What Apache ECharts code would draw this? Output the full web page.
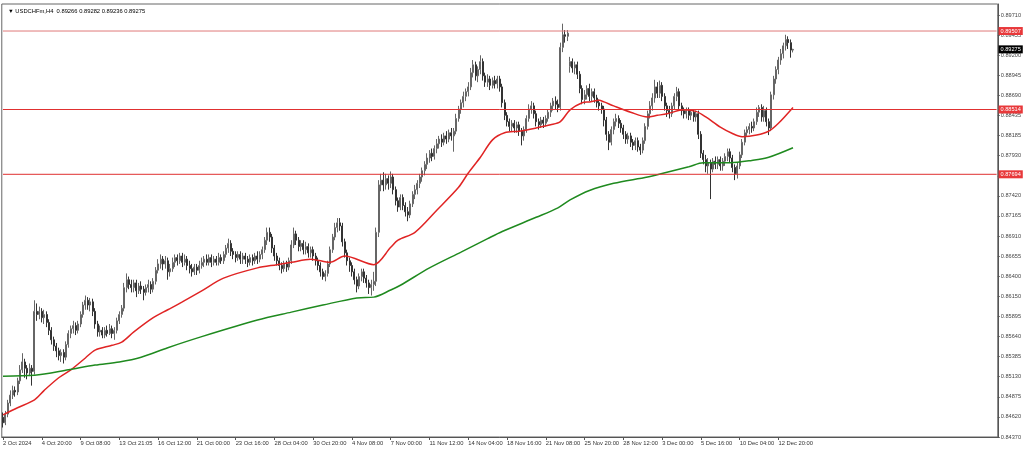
<!DOCTYPE html>
<html><head><meta charset="utf-8">
<script src="https://cdn.jsdelivr.net/npm/echarts@6/dist/echarts.min.js"></script>
<style>html,body{margin:0;padding:0;background:#fff}#c{width:1024px;height:452px}</style>
</head><body><div id="c"></div>
<script>
const symbolTitle = 'USDCHFm,H4';
const lastOHLC = [0.89266, 0.89282, 0.89236, 0.89275];
const dateLabels = ['2 Oct 2024','4 Oct 20:00','9 Oct 08:00','13 Oct 21:05','16 Oct 12:00','21 Oct 00:00','23 Oct 16:00','28 Oct 04:00','30 Oct 20:00','4 Nov 08:00','7 Nov 00:00','11 Nov 12:00','14 Nov 04:00','18 Nov 16:00','21 Nov 08:00','25 Nov 20:00','28 Nov 12:00','3 Dec 00:00','5 Dec 16:00','10 Dec 04:00','12 Dec 20:00'];
const labelStep = 16;
const slotCount = 411;
const yTickLabels = ['0.84370','0.84620','0.84875','0.85130','0.85385','0.85640','0.85895','0.86150','0.86400','0.86655','0.86910','0.87165','0.87420','0.87675','0.87930','0.88185','0.88435','0.88690','0.88945','0.89200','0.89455','0.89710'];
const yMin = 0.84370, yTopTick = 0.89710, yMax = 0.89849;
const levels = [0.89507, 0.88514, 0.87694];
const bidPrice = 0.89275;
// [open, close, low, high]
const candles = [
[0.8462,0.8455,0.8449,0.8468],[0.8455,0.8466,0.8452,0.8470],[0.8466,0.8480,0.8462,0.8484],[0.8480,0.8490,0.8476,0.8496],[0.8490,0.8496,0.8485,0.8502],
[0.8496,0.8494,0.8488,0.8501],[0.8494,0.8508,0.8490,0.8512],[0.8508,0.8522,0.8504,0.8528],[0.8522,0.8532,0.8518,0.8543],[0.8532,0.8524,0.8512,0.8536],
[0.8524,0.8518,0.8510,0.8528],[0.8518,0.8524,0.8514,0.8530],[0.8524,0.8520,0.8502,0.8528],[0.8520,0.8596,0.8516,0.8610],[0.8596,0.8592,0.8584,0.8606],
[0.8592,0.8596,0.8586,0.8602],[0.8596,0.8588,0.8582,0.8600],[0.8588,0.8592,0.8580,0.8598],[0.8592,0.8582,0.8576,0.8596],[0.8582,0.8572,0.8566,0.8586],
[0.8572,0.8560,0.8554,0.8576],[0.8560,0.8552,0.8546,0.8564],[0.8552,0.8546,0.8538,0.8556],[0.8546,0.8540,0.8534,0.8550],[0.8540,0.8544,0.8532,0.8548],
[0.8544,0.8538,0.8530,0.8548],[0.8538,0.8554,0.8534,0.8558],[0.8554,0.8568,0.8550,0.8572],[0.8568,0.8574,0.8562,0.8578],[0.8574,0.8578,0.8568,0.8584],
[0.8578,0.8572,0.8566,0.8582],[0.8572,0.8580,0.8568,0.8584],[0.8580,0.8592,0.8576,0.8596],[0.8592,0.8604,0.8588,0.8608],[0.8604,0.8610,0.8598,0.8616],
[0.8610,0.8604,0.8598,0.8614],[0.8604,0.8608,0.8596,0.8613],[0.8608,0.8596,0.8590,0.8612],[0.8596,0.8580,0.8574,0.8600],[0.8580,0.8570,0.8564,0.8584],
[0.8570,0.8572,0.8564,0.8578],[0.8572,0.8566,0.8562,0.8576],[0.8566,0.8572,0.8562,0.8576],[0.8572,0.8568,0.8564,0.8578],[0.8568,0.8574,0.8566,0.8580],
[0.8574,0.8568,0.8562,0.8578],[0.8568,0.8572,0.8560,0.8576],[0.8572,0.8584,0.8568,0.8588],[0.8584,0.8592,0.8580,0.8596],[0.8592,0.8600,0.8588,0.8604],
[0.8600,0.8626,0.8596,0.8632],[0.8626,0.8636,0.8620,0.8644],[0.8636,0.8630,0.8624,0.8640],[0.8630,0.8626,0.8620,0.8636],[0.8626,0.8632,0.8620,0.8636],
[0.8632,0.8622,0.8614,0.8636],[0.8622,0.8628,0.8618,0.8632],[0.8628,0.8624,0.8618,0.8634],[0.8624,0.8620,0.8610,0.8628],[0.8620,0.8626,0.8616,0.8630],
[0.8626,0.8630,0.8620,0.8636],[0.8630,0.8624,0.8618,0.8634],[0.8624,0.8634,0.8620,0.8638],[0.8634,0.8648,0.8630,0.8652],[0.8648,0.8656,0.8644,0.8662],
[0.8656,0.8662,0.8650,0.8668],[0.8662,0.8656,0.8648,0.8666],[0.8656,0.8660,0.8650,0.8666],[0.8660,0.8646,0.8636,0.8664],[0.8646,0.8650,0.8640,0.8656],
[0.8650,0.8658,0.8646,0.8664],[0.8658,0.8664,0.8652,0.8668],[0.8664,0.8660,0.8654,0.8668],[0.8660,0.8666,0.8656,0.8670],[0.8666,0.8658,0.8652,0.8670],
[0.8658,0.8662,0.8654,0.8668],[0.8662,0.8654,0.8648,0.8666],[0.8654,0.8650,0.8644,0.8660],[0.8650,0.8646,0.8640,0.8656],[0.8646,0.8652,0.8642,0.8656],
[0.8652,0.8648,0.8642,0.8656],[0.8648,0.8654,0.8644,0.8660],[0.8654,0.8658,0.8650,0.8664],[0.8658,0.8662,0.8652,0.8666],[0.8662,0.8658,0.8654,0.8668],
[0.8658,0.8664,0.8654,0.8668],[0.8664,0.8658,0.8652,0.8668],[0.8658,0.8662,0.8654,0.8666],[0.8662,0.8658,0.8654,0.8666],[0.8658,0.8664,0.8654,0.8670],
[0.8664,0.8660,0.8656,0.8668],[0.8660,0.8668,0.8656,0.8672],[0.8668,0.8676,0.8664,0.8680],[0.8676,0.8682,0.8670,0.8688],[0.8682,0.8672,0.8666,0.8686],
[0.8672,0.8668,0.8662,0.8676],[0.8668,0.8664,0.8658,0.8672],[0.8664,0.8668,0.8660,0.8672],[0.8668,0.8662,0.8656,0.8672],[0.8662,0.8666,0.8656,0.8670],
[0.8666,0.8662,0.8656,0.8670],[0.8662,0.8658,0.8652,0.8666],[0.8658,0.8664,0.8654,0.8668],[0.8664,0.8660,0.8654,0.8668],[0.8660,0.8666,0.8656,0.8670],
[0.8666,0.8662,0.8656,0.8672],[0.8662,0.8668,0.8658,0.8672],[0.8668,0.8674,0.8662,0.8678],[0.8674,0.8686,0.8670,0.8690],[0.8686,0.8696,0.8680,0.8702],
[0.8696,0.8690,0.8684,0.8702],[0.8690,0.8676,0.8670,0.8694],[0.8676,0.8666,0.8660,0.8680],[0.8666,0.8660,0.8654,0.8670],[0.8660,0.8654,0.8648,0.8664],
[0.8654,0.8650,0.8644,0.8658],[0.8650,0.8656,0.8646,0.8660],[0.8656,0.8652,0.8646,0.8660],[0.8652,0.8660,0.8648,0.8664],[0.8660,0.8680,0.8656,0.8686],
[0.8680,0.8694,0.8676,0.8702],[0.8694,0.8686,0.8680,0.8698],[0.8686,0.8678,0.8672,0.8690],[0.8678,0.8682,0.8672,0.8686],[0.8682,0.8674,0.8668,0.8686],
[0.8674,0.8678,0.8668,0.8684],[0.8678,0.8670,0.8664,0.8682],[0.8670,0.8674,0.8664,0.8678],[0.8674,0.8666,0.8660,0.8678],[0.8666,0.8660,0.8654,0.8670],
[0.8660,0.8654,0.8648,0.8664],[0.8654,0.8646,0.8640,0.8658],[0.8646,0.8640,0.8636,0.8650],[0.8640,0.8644,0.8634,0.8648],[0.8644,0.8656,0.8640,0.8660],
[0.8656,0.8674,0.8652,0.8678],[0.8674,0.8690,0.8670,0.8694],[0.8690,0.8702,0.8686,0.8708],[0.8702,0.8708,0.8696,0.8714],[0.8708,0.8704,0.8698,0.8714],
[0.8704,0.8684,0.8678,0.8708],[0.8684,0.8670,0.8664,0.8688],[0.8670,0.8660,0.8654,0.8674],[0.8660,0.8654,0.8646,0.8664],[0.8654,0.8646,0.8640,0.8658],
[0.8646,0.8636,0.8630,0.8650],[0.8636,0.8628,0.8620,0.8640],[0.8628,0.8640,0.8624,0.8644],[0.8640,0.8646,0.8634,0.8650],[0.8646,0.8638,0.8632,0.8650],
[0.8638,0.8632,0.8626,0.8642],[0.8632,0.8626,0.8618,0.8636],[0.8626,0.8630,0.8616,0.8636],[0.8630,0.8634,0.8622,0.8646],[0.8634,0.8696,0.8628,0.8702],
[0.8696,0.8756,0.8690,0.8762],[0.8756,0.8762,0.8748,0.8770],[0.8762,0.8756,0.8748,0.8772],[0.8756,0.8764,0.8750,0.8770],[0.8764,0.8758,0.8750,0.8768],
[0.8758,0.8766,0.8752,0.8773],[0.8766,0.8750,0.8744,0.8770],[0.8750,0.8736,0.8730,0.8754],[0.8736,0.8728,0.8722,0.8740],[0.8728,0.8740,0.8724,0.8744],
[0.8740,0.8730,0.8724,0.8744],[0.8730,0.8722,0.8716,0.8734],[0.8722,0.8718,0.8710,0.8728],[0.8718,0.8732,0.8714,0.8736],[0.8732,0.8744,0.8728,0.8748],
[0.8744,0.8750,0.8738,0.8756],[0.8750,0.8758,0.8744,0.8762],[0.8758,0.8766,0.8752,0.8770],[0.8766,0.8774,0.8760,0.8778],[0.8774,0.8782,0.8768,0.8786],
[0.8782,0.8790,0.8776,0.8796],[0.8790,0.8796,0.8784,0.8800],[0.8796,0.8792,0.8786,0.8802],[0.8792,0.8802,0.8788,0.8806],[0.8802,0.8808,0.8796,0.8814],
[0.8808,0.8814,0.8802,0.8818],[0.8814,0.8810,0.8804,0.8820],[0.8810,0.8818,0.8806,0.8822],[0.8818,0.8814,0.8808,0.8824],[0.8814,0.8822,0.8810,0.8826],
[0.8822,0.8818,0.8812,0.8828],[0.8818,0.8824,0.8798,0.8828],[0.8824,0.8840,0.8820,0.8846],[0.8840,0.8852,0.8836,0.8856],[0.8852,0.8860,0.8846,0.8864],
[0.8860,0.8868,0.8854,0.8874],[0.8868,0.8874,0.8862,0.8878],[0.8874,0.8880,0.8868,0.8886],[0.8880,0.8898,0.8876,0.8904],[0.8898,0.8908,0.8892,0.8914],
[0.8908,0.8894,0.8888,0.8912],[0.8894,0.8902,0.8886,0.8906],[0.8902,0.8912,0.8896,0.8920],[0.8912,0.8894,0.8888,0.8916],[0.8894,0.8886,0.8880,0.8898],
[0.8886,0.8890,0.8880,0.8896],[0.8890,0.8882,0.8876,0.8894],[0.8882,0.8888,0.8878,0.8892],[0.8888,0.8884,0.8878,0.8894],[0.8884,0.8890,0.8878,0.8894],
[0.8890,0.8880,0.8874,0.8894],[0.8880,0.8860,0.8854,0.8884],[0.8860,0.8844,0.8838,0.8864],[0.8844,0.8836,0.8830,0.8848],[0.8836,0.8830,0.8824,0.8840],
[0.8830,0.8834,0.8824,0.8838],[0.8834,0.8828,0.8822,0.8838],[0.8828,0.8832,0.8822,0.8836],[0.8832,0.8824,0.8818,0.8836],[0.8824,0.8818,0.8806,0.8828],
[0.8818,0.8826,0.8812,0.8830],[0.8826,0.8840,0.8822,0.8844],[0.8840,0.8852,0.8836,0.8858],[0.8852,0.8856,0.8846,0.8862],[0.8856,0.8846,0.8840,0.8860],
[0.8846,0.8836,0.8830,0.8850],[0.8836,0.8832,0.8826,0.8840],[0.8832,0.8838,0.8828,0.8842],[0.8838,0.8834,0.8828,0.8842],[0.8834,0.8840,0.8830,0.8844],
[0.8840,0.8848,0.8836,0.8852],[0.8848,0.8856,0.8842,0.8860],[0.8856,0.8862,0.8850,0.8866],[0.8862,0.8858,0.8852,0.8868],[0.8858,0.8854,0.8848,0.8864],
[0.8854,0.8930,0.8850,0.8936],[0.8930,0.8946,0.8924,0.8960],[0.8946,0.8944,0.8936,0.8952],[0.8944,0.8948,0.8938,0.8952],[0.8906,0.8912,0.8898,0.8918],
[0.8912,0.8904,0.8898,0.8916],[0.8904,0.8908,0.8896,0.8912],[0.8908,0.8896,0.8890,0.8912],[0.8896,0.8878,0.8872,0.8900],[0.8878,0.8864,0.8858,0.8882],
[0.8864,0.8870,0.8858,0.8876],[0.8870,0.8878,0.8864,0.8882],[0.8878,0.8868,0.8862,0.8884],[0.8868,0.8874,0.8862,0.8878],[0.8874,0.8866,0.8860,0.8878],
[0.8866,0.8860,0.8854,0.8870],[0.8860,0.8856,0.8850,0.8864],[0.8856,0.8852,0.8846,0.8860],[0.8852,0.8838,0.8830,0.8856],[0.8838,0.8820,0.8812,0.8842],
[0.8820,0.8810,0.8800,0.8824],[0.8810,0.8826,0.8806,0.8830],[0.8826,0.8836,0.8820,0.8840],[0.8836,0.8840,0.8830,0.8846],[0.8840,0.8834,0.8828,0.8844],
[0.8834,0.8828,0.8822,0.8838],[0.8828,0.8820,0.8814,0.8832],[0.8820,0.8814,0.8808,0.8824],[0.8814,0.8818,0.8808,0.8822],[0.8818,0.8810,0.8804,0.8822],
[0.8810,0.8806,0.8800,0.8814],[0.8806,0.8812,0.8800,0.8816],[0.8812,0.8804,0.8798,0.8816],[0.8804,0.8800,0.8794,0.8808],[0.8800,0.8812,0.8796,0.8816],
[0.8812,0.8830,0.8808,0.8834],[0.8830,0.8846,0.8826,0.8850],[0.8846,0.8856,0.8840,0.8862],[0.8856,0.8866,0.8850,0.8872],[0.8866,0.8880,0.8860,0.8889],
[0.8880,0.8872,0.8866,0.8886],[0.8872,0.8882,0.8866,0.8888],[0.8882,0.8868,0.8862,0.8886],[0.8868,0.8856,0.8850,0.8872],[0.8856,0.8850,0.8842,0.8860],
[0.8850,0.8846,0.8840,0.8856],[0.8846,0.8856,0.8842,0.8860],[0.8856,0.8868,0.8852,0.8872],[0.8868,0.8874,0.8862,0.8880],[0.8874,0.8856,0.8850,0.8878],
[0.8856,0.8850,0.8844,0.8860],[0.8850,0.8846,0.8840,0.8854],[0.8846,0.8850,0.8840,0.8854],[0.8850,0.8844,0.8838,0.8854],[0.8844,0.8848,0.8838,0.8852],
[0.8848,0.8842,0.8836,0.8852],[0.8842,0.8846,0.8836,0.8850],[0.8846,0.8820,0.8814,0.8850],[0.8820,0.8796,0.8790,0.8824],[0.8796,0.8788,0.8782,0.8800],
[0.8788,0.8780,0.8772,0.8794],[0.8780,0.8784,0.8770,0.8790],[0.8784,0.8776,0.8738,0.8788],[0.8776,0.8786,0.8772,0.8790],[0.8786,0.8782,0.8776,0.8792],
[0.8782,0.8788,0.8776,0.8792],[0.8788,0.8780,0.8774,0.8792],[0.8780,0.8786,0.8774,0.8790],[0.8786,0.8792,0.8780,0.8796],[0.8792,0.8798,0.8786,0.8802],
[0.8798,0.8790,0.8784,0.8802],[0.8790,0.8778,0.8772,0.8794],[0.8778,0.8770,0.8762,0.8782],[0.8770,0.8780,0.8764,0.8784],[0.8780,0.8794,0.8776,0.8798],
[0.8794,0.8810,0.8790,0.8814],[0.8810,0.8822,0.8806,0.8826],[0.8822,0.8826,0.8818,0.8830],[0.8826,0.8830,0.8820,0.8834],[0.8830,0.8828,0.8822,0.8836],
[0.8828,0.8836,0.8824,0.8840],[0.8836,0.8848,0.8832,0.8854],[0.8848,0.8854,0.8842,0.8857],[0.8854,0.8842,0.8836,0.8858],[0.8842,0.8850,0.8836,0.8856],
[0.8850,0.8836,0.8830,0.8854],[0.8836,0.8828,0.8819,0.8840],[0.8828,0.8870,0.8824,0.8874],[0.8870,0.8890,0.8864,0.8894],[0.8890,0.8902,0.8884,0.8906],
[0.8902,0.8914,0.8896,0.8918],[0.8914,0.8922,0.8908,0.8928],[0.8922,0.8932,0.8916,0.8936],[0.8932,0.8940,0.8926,0.8946],[0.8940,0.8936,0.8928,0.8944],
[0.8936,0.89266,0.8917,0.8940],[0.89266,0.89275,0.89236,0.89282]
];
// moving averages read at sample bars: [barIndex, price]
const maRed = [[0,0.8465],[6,0.8474],[13,0.8484],[17,0.8496],[23,0.8512],[28,0.8522],[34,0.8537],[38,0.8547],[45,0.8553],[49,0.8557],[54,0.8570],[62,0.8588],[68,0.8598],[74,0.8608],[82,0.8622],[91,0.8638],[105,0.8651],[113,0.8655],[119,0.8658],[127,0.8662],[135,0.8658],[141,0.8666],[153,0.8655],[160,0.8677],[163,0.8686],[170,0.8696],[179,0.8724],[188,0.8753],[192,0.8771],[197,0.8791],[202,0.8813],[207,0.8822],[213,0.8824],[220,0.8828],[226,0.8832],[230,0.8836],[234,0.8851],[239,0.8860],[242,0.8861],[246,0.8863],[248,0.8861],[252,0.8856],[259,0.8848],[266,0.8842],[270,0.8844],[274,0.8846],[281,0.8851],[286,0.8849],[290,0.8842],[296,0.8829],[301,0.8821],[305,0.8817],[311,0.8819],[316,0.8824],[320,0.8834],[326,0.8854]];
const maGreen = [[0,0.8514],[13,0.8515],[27,0.8522],[38,0.8528],[48,0.8532],[57,0.8538],[68,0.8550],[82,0.8564],[105,0.8585],[119,0.8595],[132,0.8604],[146,0.8613],[153,0.8614],[160,0.8623],[164,0.8629],[176,0.8651],[189,0.8671],[200,0.8688],[206,0.8697],[220,0.8715],[229,0.8727],[234,0.8737],[242,0.8749],[252,0.8758],[266,0.8766],[274,0.8772],[283,0.8779],[289,0.8784],[300,0.8784],[309,0.8787],[316,0.8791],[326,0.8803]];

const yInterval = (yTopTick - yMin) / (yTickLabels.length - 1);
const slots = Array.from({length: slotCount}, (_, i) => String(i));
const FONT = 'Liberation Sans';
const isLabelSlot = (idx) => idx % labelStep === 0 && idx / labelStep < dateLabels.length;

// horizontal price levels drawn as flat line series across the whole category range
const levelSeries = (price, lineColor, tagColor) => ({
  type: 'line', data: [[0, price], [slotCount - 1, price]], symbol: 'none', silent: true, z: 4,
  itemStyle: {color: lineColor}, lineStyle: {color: lineColor, width: 1, type: 'solid'},
  endLabel: {show: true, distance: 2, formatter: () => price.toFixed(5), backgroundColor: tagColor,
    color: '#fff', fontSize: 5.6, fontFamily: FONT, padding: [1, 2, 1, 2]}
});

const chart = echarts.init(document.getElementById('c'), null, {renderer: 'canvas'});
chart.setOption({
  animation: false,
  backgroundColor: '#ffffff',
  title: {text: '\u25BC ' + symbolTitle + '  ' + lastOHLC.map(v => v.toFixed(5)).join(' '), left: 3, top: 3,
    textStyle: {fontSize: 5.8, fontWeight: 'normal', color: '#000', fontFamily: FONT}},
  grid: {left: 1, right: 24, top: 4, bottom: 15, show: true, borderColor: '#666', borderWidth: 1, backgroundColor: 'transparent'},
  xAxis: {type: 'category', data: slots, boundaryGap: true,
    axisLine: {lineStyle: {color: '#555', width: 1}},
    axisTick: {show: true, alignWithLabel: true, length: 3, interval: (i) => isLabelSlot(i), lineStyle: {color: '#555'}},
    axisLabel: {interval: (i) => isLabelSlot(i), formatter: (v, i) => dateLabels[i / labelStep] || '',
      align: 'left', margin: 3, fontSize: 5.8, color: '#333', fontFamily: FONT, showMinLabel: true, hideOverlap: false},
    splitLine: {show: false}},
  yAxis: {type: 'value', position: 'right', min: yMin, max: yMax, interval: yInterval, scale: true,
    axisLine: {show: true, lineStyle: {color: '#555', width: 1}},
    axisTick: {show: true, length: 2, lineStyle: {color: '#555'}},
    axisLabel: {margin: 3, fontSize: 5.6, color: '#444', fontFamily: FONT, showMaxLabel: false,
      formatter: (v) => { const k = (v - yMin) / yInterval; const r = Math.round(k);
        return Math.abs(k - r) < 0.01 && yTickLabels[r] ? yTickLabels[r] : ''; }},
    splitLine: {show: false}},
  series: [
    {type: 'candlestick', data: candles.map(d => [d[0], d[1], d[2], d[3]]), barWidth: 1.5,
      itemStyle: {color: '#ffffff', color0: '#333333', borderColor: '#666666', borderColor0: '#333333', borderWidth: 1}},
    {type: 'line', data: maRed, smooth: 0.3, symbol: 'none', lineStyle: {color: '#e02424', width: 1.5}, itemStyle: {color: '#e02424'}, z: 3},
    {type: 'line', data: maGreen, smooth: 0.3, symbol: 'none', lineStyle: {color: '#1f8a1f', width: 1.5}, itemStyle: {color: '#1f8a1f'}, z: 3},
    levelSeries(levels[0], '#e07a7a', '#e8383a'),
    levelSeries(levels[1], '#e03030', '#e8383a'),
    levelSeries(levels[2], '#e03030', '#e8383a'),
    levelSeries(bidPrice, 'rgba(0,0,0,0)', '#000000')
  ]
});
</script></body></html>
